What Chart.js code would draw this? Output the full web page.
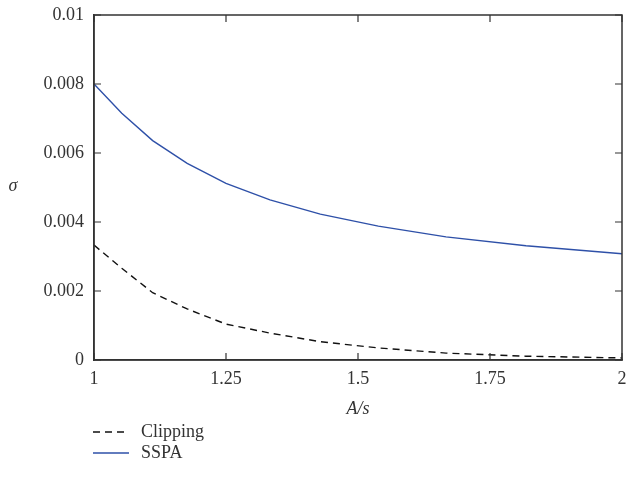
<!DOCTYPE html>
<html>
<head>
<meta charset="utf-8">
<script src="https://cdn.jsdelivr.net/npm/chart.js@4/dist/chart.umd.min.js"></script>
<style>
html,body{margin:0;padding:0;background:#fff;}
#wrap{width:627px;height:498px;position:relative;}
</style>
</head>
<body>
<div id="wrap"><canvas id="c" width="627" height="498"></canvas></div>
<script>
// Data
const asRatio = [1, 1.0526, 1.1111, 1.1765, 1.25, 1.3333, 1.4286, 1.5385, 1.6667, 1.8182, 2];
const clipping = [0.00333, 0.00266, 0.00195, 0.00148, 0.00104, 0.00078, 0.00053, 0.00035, 0.00020, 0.00011, 0.00006];
const sspa = [0.0080, 0.00715, 0.00636, 0.00570, 0.00512, 0.00464, 0.00423, 0.00388, 0.00357, 0.00331, 0.00308];
const xTicks = [1, 1.25, 1.5, 1.75, 2];
const xTickLabels = ['1', '1.25', '1.5', '1.75', '2'];
const yTicks = [0, 0.002, 0.004, 0.006, 0.008, 0.01];
const yTickLabels = ['0', '0.002', '0.004', '0.006', '0.008', '0.01'];
const seriesNames = ['Clipping', 'SSPA'];
const xTitle = 'A/s';
const yTitle = 'σ';

const FONT = '"Liberation Serif", "DejaVu Serif", serif';
const TXT = '#333333';
const AXIS = '#333333';

const frame = {
  id: 'frame',
  afterDraw(chart) {
    const ctx = chart.ctx;
    const a = chart.chartArea;
    const xs = chart.scales.x, ys = chart.scales.y;
    ctx.save();
    ctx.strokeStyle = AXIS;
    ctx.lineWidth = 1.5;
    ctx.strokeRect(a.left, a.top, a.right - a.left, a.bottom - a.top);
    ctx.lineWidth = 1.2;
    const L = 7;
    xTicks.forEach(v => {
      const px = xs.getPixelForValue(v);
      ctx.beginPath();
      ctx.moveTo(px, a.bottom); ctx.lineTo(px, a.bottom - L);
      ctx.moveTo(px, a.top); ctx.lineTo(px, a.top + L);
      ctx.stroke();
    });
    yTicks.forEach(v => {
      const py = ys.getPixelForValue(v);
      ctx.beginPath();
      ctx.moveTo(a.left, py); ctx.lineTo(a.left + L, py);
      ctx.moveTo(a.right, py); ctx.lineTo(a.right - L, py);
      ctx.stroke();
    });
    // y title (horizontal)
    ctx.fillStyle = TXT;
    ctx.font = 'italic 18px ' + FONT;
    ctx.textAlign = 'center';
    ctx.textBaseline = 'middle';
    ctx.fillText(yTitle, 13, 186);
    // legend
    ctx.font = '18px ' + FONT;
    ctx.textAlign = 'left';
    chart.data.datasets.forEach((ds, i) => {
      const y = 432 + i * 21;
      ctx.beginPath();
      ctx.strokeStyle = ds.borderColor;
      ctx.lineWidth = ds.borderWidth;
      ctx.setLineDash(ds.borderDash || []);
      ctx.moveTo(93, y); ctx.lineTo(129, y);
      ctx.stroke();
      ctx.setLineDash([]);
      ctx.fillStyle = TXT;
      ctx.fillText(ds.label, 141, y);
    });
    ctx.restore();
  }
};

new Chart(document.getElementById('c'), {
  type: 'line',
  data: {
    datasets: [
      {
        label: seriesNames[0],
        data: asRatio.map((x, i) => ({x: x, y: clipping[i]})),
        borderColor: '#111111',
        borderWidth: 1.4,
        borderDash: [7, 5],
        pointRadius: 0,
        tension: 0,
        fill: false
      },
      {
        label: seriesNames[1],
        data: asRatio.map((x, i) => ({x: x, y: sspa[i]})),
        borderColor: '#2e50a8',
        borderWidth: 1.4,
        pointRadius: 0,
        tension: 0,
        fill: false
      }
    ]
  },
  options: {
    responsive: false,
    animation: false,
    layout: { padding: { left: 0, right: 5, top: 15, bottom: 68 } },
    plugins: { legend: { display: false }, tooltip: { enabled: false } },
    scales: {
      x: {
        type: 'linear',
        min: 1, max: 2,
        afterBuildTicks: s => { s.ticks = xTicks.map(v => ({value: v})); },
        afterFit: s => { s.height = 70; s.paddingRight = 0; s.paddingLeft = 0; },
        ticks: {
          autoSkip: false,
          maxRotation: 0,
          padding: 8,
          color: TXT,
          font: { family: FONT, size: 18 },
          callback: (v) => { const k = xTicks.indexOf(v); return k >= 0 ? xTickLabels[k] : ''; }
        },
        grid: { display: false, drawTicks: false },
        border: { display: true, color: AXIS, width: 1.5 },
        title: {
          display: true, text: xTitle, color: TXT,
          font: { family: FONT, size: 18, style: 'italic' },
          padding: { top: 0, bottom: 10 }
        }
      },
      y: {
        type: 'linear',
        min: 0, max: 0.01,
        afterBuildTicks: s => { s.ticks = yTicks.map(v => ({value: v})); },
        afterFit: s => { s.width = 94; s.paddingTop = 0; s.paddingBottom = 0; },
        ticks: {
          padding: 10,
          color: TXT,
          font: { family: FONT, size: 18 },
          callback: (v) => { const k = yTicks.findIndex(t => Math.abs(t - v) < 1e-9); return k >= 0 ? yTickLabels[k] : ''; }
        },
        grid: { display: false, drawTicks: false },
        border: { display: true, color: AXIS, width: 1.5 }
      }
    }
  },
  plugins: [frame]
});
</script>
</body>
</html>
